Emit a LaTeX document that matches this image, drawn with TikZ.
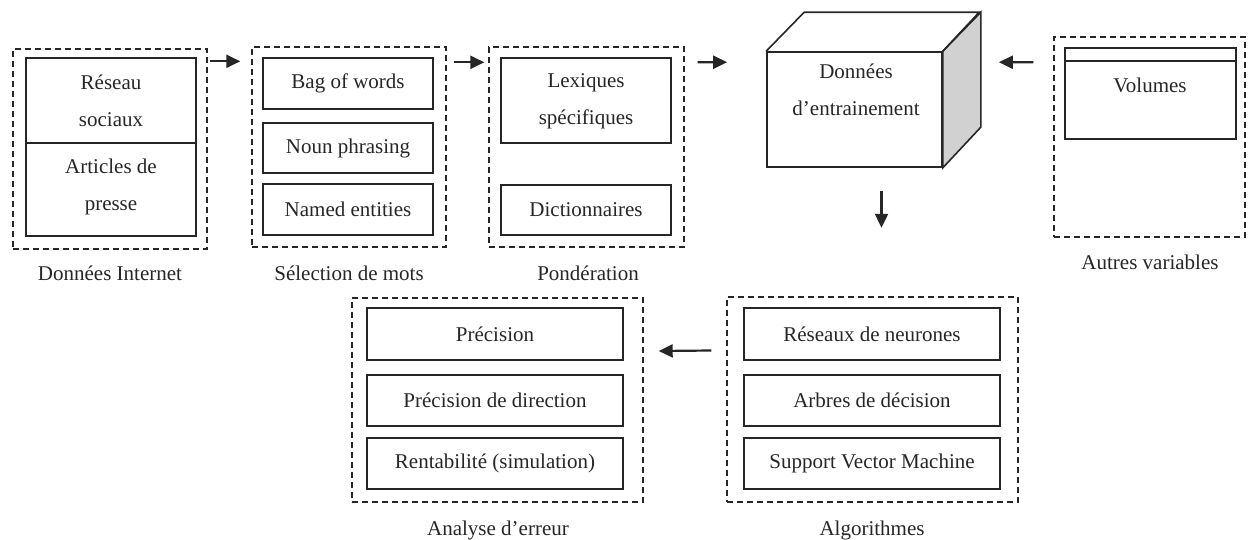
\documentclass[tikz,border=0pt]{standalone}
\usepackage{fontspec}
\setmainfont{Liberation Serif}
\usetikzlibrary{fit,arrows.meta,calc}
\begin{document}
\begin{tikzpicture}[x=1pt,y=-1pt,
  every node/.style={font=\fontsize{21}{37}\selectfont, text=black!85},
  box/.style={draw=black!85, line width=1.6pt, inner sep=0pt},
  grp/.style={draw=black!85, line width=1.4pt, dash pattern=on 6pt off 4pt, inner sep=0pt},
  lab/.style={inner sep=0pt, align=center},
  arr/.style={line width=2.2pt, draw=black!85, -{Triangle[length=14pt,width=13pt]}}
]
\useasboundingbox (0,0) rectangle (1248,539);

% Group 1: Donnees Internet
\node[grp, fit={(13,49) (207,249)}] (g1) {};
\node[box, fit={(26,58) (196,143)}] (b11) {};
\node[lab] (t11) at (111,101) {R\'eseau\\sociaux};
\node[box, fit={(26,143) (196,236)}] (b12) {};
\node[lab] (t12) at (111,186.5) {Articles de\\presse};
\node[lab] (l1) at (110,273) {Donn\'ees Internet};

% Group 2: Selection de mots
\node[grp, fit={(252,47) (446,247)}] (g2) {};
\node[box, fit={(263,58) (433,109)}] (b21) {};
\node[lab] (t21) at (b21) {Bag of words};
\node[box, fit={(263,123) (433,173)}] (b22) {};
\node[lab] (t22) at (b22) {Noun phrasing};
\node[box, fit={(263,184) (433,235)}] (b23) {};
\node[lab] (t23) at (b23) {Named entities};
\node[lab] (l2) at (349,273) {S\'election de mots};

% Group 3: Ponderation
\node[grp, fit={(489,47) (684,247)}] (g3) {};
\node[box, fit={(501,58) (671,143)}] (b31) {};
\node[lab] (t31) at (586,101.5) {Lexiques\\sp\'ecifiques};
\node[box, fit={(501,185) (671,235)}] (b32) {};
\node[lab] (t32) at (b32) {Dictionnaires};
\node[lab] (l3) at (588,273) {Pond\'eration};

% Cube
\node[box, fit={(767,52) (942,167)}] (cube) {};
\draw[line width=1.6pt, draw=black!85, fill=black!18] (cube.north east) -- ++(38,-39) -- ++(0,115) -- (cube.south east) -- cycle;
\draw[line width=1.6pt, draw=black!85, line join=miter] (cube.north west) -- ++(38,-39) -- ++(175,0) -- (cube.north east);
\node[lab] (tc) at (856,90) {Donn\'ees\\d'entrainement};

% Group Autres variables
\node[grp, fit={(1054,37) (1245,237)}] (g4) {};
\node[box, fit={(1065,48) (1236,139)}] (b41) {};
\draw[line width=1.6pt, draw=black!85] ($(b41.north west)+(0,14)$) coordinate (d1) -- ($(b41.north east)+(0,14)$) coordinate (d2);
\node[lab] (t41) at (1150,85) {Volumes};
\node[lab] (l4) at (1150,262) {Autres variables};

% Group Analyse d'erreur
\node[grp, fit={(352,298) (643,502)}] (g5) {};
\node[box, fit={(367,308) (623,360)}] (b51) {};
\node[lab] (t51) at (b51) {Pr\'ecision};
\node[box, fit={(367,375) (623,426)}] (b52) {};
\node[lab] (t52) at (b52) {Pr\'ecision de direction};
\node[box, fit={(367,438) (623,489)}] (b53) {};
\node[lab] (t53) at (b53) {Rentabilit\'e (simulation)};
\node[lab] (l5) at (498,530) {Analyse d'erreur};

% Group Algorithmes
\node[grp, fit={(727,297) (1018,502)}] (g6) {};
\node[box, fit={(744,308) (1000,360)}] (b61) {};
\node[lab] (t61) at (b61) {R\'eseaux de neurones};
\node[box, fit={(744,375) (1000,426)}] (b62) {};
\node[lab] (t62) at (b62) {Arbres de d\'ecision};
\node[box, fit={(744,438) (1000,489)}] (b63) {};
\node[lab] (t63) at (b63) {Support Vector Machine};
\node[lab] (l6) at (872,530) {Algorithmes};

% Arrows
\draw[arr] ($(g1.north east)+(2,13)$) -- ($(g2.north west)+(-11,15)$);
\draw[arr] ($(g2.north east)+(7,16)$) -- ($(g3.north west)+(-4,16)$);
\draw[arr] ($(g3.north east)+(13,16)$) -- ($(cube.north west)+(-39,11)$);
\draw[arr] ($(g4.north west)+(-20,26)$) -- ($(cube.north east)+(56,11)$);
\draw[arr] ($(cube.south)+(27,23)$) -- ($(cube.south)+(27,60)$);
\draw[arr] ($(g6.west)+(-15,-49)$) -- ($(g5.east)+(15,-49)$);
\end{tikzpicture}
\end{document}
